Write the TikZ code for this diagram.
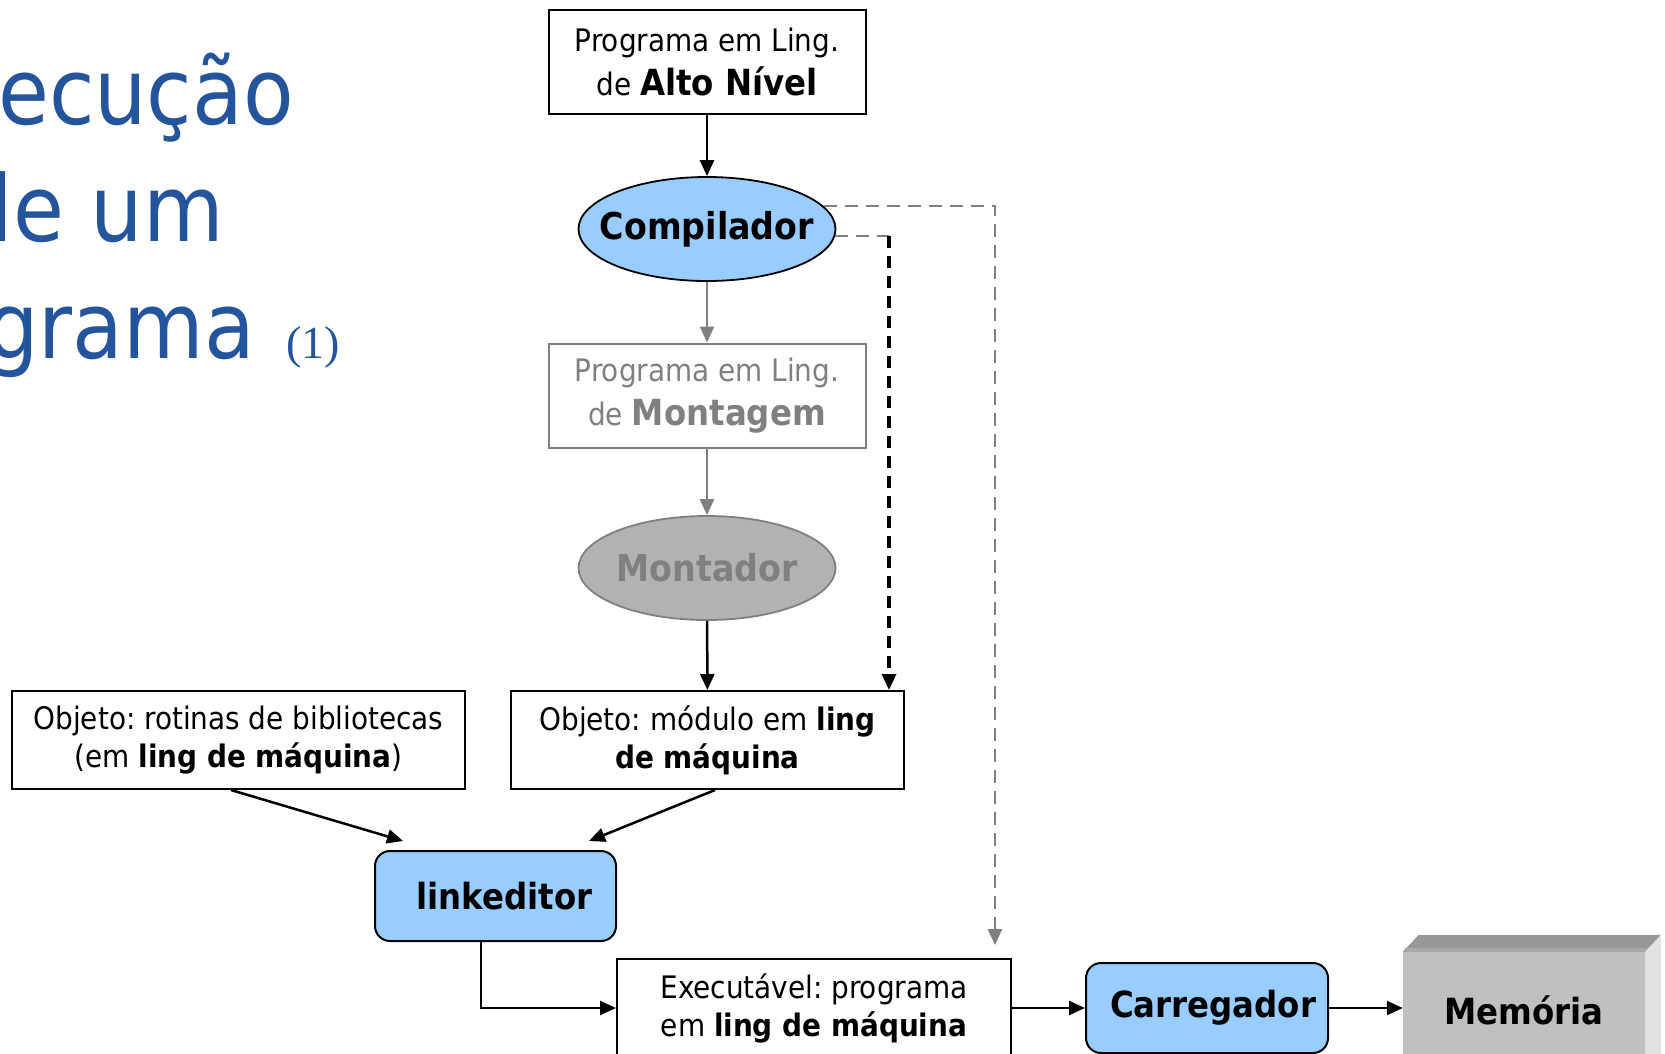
\documentclass[tikz,border=0pt]{standalone}
\usepackage{fontspec}
\setmainfont{DejaVu Sans Condensed}
\newfontfamily\numfont{Liberation Serif}
\usetikzlibrary{shapes.geometric,arrows.meta}
\frenchspacing

\definecolor{titleblue}{RGB}{36,84,156}
\definecolor{procblue}{RGB}{153,204,255}
\definecolor{dimgray}{RGB}{128,128,128}
\definecolor{asmfill}{RGB}{178,178,178}
\definecolor{memfront}{RGB}{192,192,192}
\definecolor{memtop}{RGB}{152,152,152}
\definecolor{memtopedge}{RGB}{168,168,168}
\definecolor{memside}{RGB}{226,226,226}

\begin{document}
\begin{tikzpicture}[x=1pt,y=-1pt,
  titletext/.style={inner sep=0pt, text=titleblue, font=\fontsize{92}{110}\selectfont},
  doc/.style={rectangle, draw=black, line width=2pt, fill=white, inner sep=0pt,
    align=center, font=\fontsize{31}{38}\selectfont},
  docbig/.style={doc, minimum width=317pt, minimum height=104pt, font=\fontsize{31}{44}\selectfont},
  objbox/.style={doc, minimum height=98pt},
  proc/.style={ellipse, draw=black, line width=1.8pt, fill=procblue, inner sep=0pt,
    minimum width=257pt, minimum height=104pt, font=\fontsize{37}{40}\selectfont\bfseries},
  tool/.style={rectangle, rounded corners=15pt, draw=black, line width=2pt, fill=procblue,
    inner sep=0pt, minimum height=90pt, font=\fontsize{36}{40}\selectfont\bfseries},
  flow/.style={line width=2.5pt, -{Triangle[length=16pt,width=14pt]}},
  dashgray/.style={line width=2.4pt, dimgray, dash pattern=on 13pt off 8pt},
  dashblack/.style={line width=3.4pt, black, dash pattern=on 12pt off 8pt}
]
\useasboundingbox (0,0) rectangle (1665,1053);
\fill[white] (0,0) rectangle (1665,1053);

% title, partly running off the left edge
\begin{scope}
\clip (0,0) rectangle (1665,1053);
\node[titletext, anchor=base east] (t1) at (294,124) {Execução};
\node[titletext, anchor=base east] (t2) at (224,241) {de um};
\node[titletext, anchor=base east] (t3) at (255,358) {programa};
\node[inner sep=0pt, text=titleblue, font=\numfont\fontsize{46}{50}\selectfont, anchor=base west] (t4) at (286,358) {(1)};
\end{scope}

% main chain
\node[docbig] (alto) at (707,62)
  {Programa em Ling.\\ de {\fontsize{36}{44}\selectfont\bfseries Alto Nível}};
\node[proc] (comp) at (707,229) {\makebox[0pt]{Compilador}};
\node[docbig, draw=dimgray, text=dimgray] (mont) at (707,395.5)
  {Programa em Ling.\\ de {\fontsize{36}{44}\selectfont\bfseries Montagem}};
\node[proc, draw=dimgray, fill=asmfill, text=dimgray] (asm) at (707,568) {\makebox[0pt]{Montador}};

\node[objbox, minimum width=393pt] (mod) at (707.5,740)
  {Objeto: módulo em \textbf{ling}\\ \textbf{de máquina}};
\node[objbox, minimum width=453pt] (rot) at (238.5,740)
  {Objeto: rotinas de bibliotecas\\ (em \textbf{ling de máquina})};

\node[tool, minimum width=241pt] (lnk) at (495.5,896) {\hspace*{18pt}linkeditor};
\node[objbox, minimum width=394pt] (exe) at (814,1008)
  {Executável: programa\\ em \textbf{ling de máquina}};
\node[tool, minimum width=242pt] (carr) at (1207,1008) {\hspace*{12pt}Carregador};

% memory block with bevelled top and side faces
\node[rectangle, fill=memfront, inner sep=0pt, minimum width=242pt, minimum height=116pt,
  font=\fontsize{36}{40}\selectfont\bfseries] (mem) at (1524,1010) {Memória};
\fill[memtop] (mem.north west) -- ++(16,-17) -- ++(242,0) -- (mem.north east) -- cycle;
\fill[memtopedge] (mem.north west) -- ++(3,-4) -- ++(242,0) -- (mem.north east) -- cycle;
\fill[memside] (mem.north east) -- ++(16,-17) -- ++(0,140) -- (mem.south east) -- cycle;

% connectors
\draw[flow] (alto) -- (comp);
\draw[flow, dimgray] (comp) -- (mont);
\draw[flow, dimgray] (mont) -- (asm);
\draw[flow] (asm) -- (mod);

\coordinate (bypass) at (889,236);
\draw[dashgray] (comp.-3) -- (comp.-3 -| bypass);
\draw[dashblack, -{Triangle[length=16pt,width=14pt]}] (comp.-3 -| bypass) -- (bypass |- mod.north);

\coordinate (exeabove) at (995,945);
\draw[dashgray, -{Triangle[length=16pt,width=14pt]}] (comp.11) -| (exeabove);

\coordinate (lnkleft) at (403,841);
\coordinate (lnkright) at (589,841);
\draw[flow] ([xshift=-7.5pt]rot.south) -- (lnkleft);
\draw[flow] ([xshift=7.5pt]mod.south) -- (lnkright);

\draw[flow] ([xshift=-14.5pt]lnk.south) |- (exe.west);
\draw[flow] (exe.east) -- (carr.west);
\draw[flow] (carr.east) -- (carr.east -| mem.west);
\end{tikzpicture}
\end{document}
